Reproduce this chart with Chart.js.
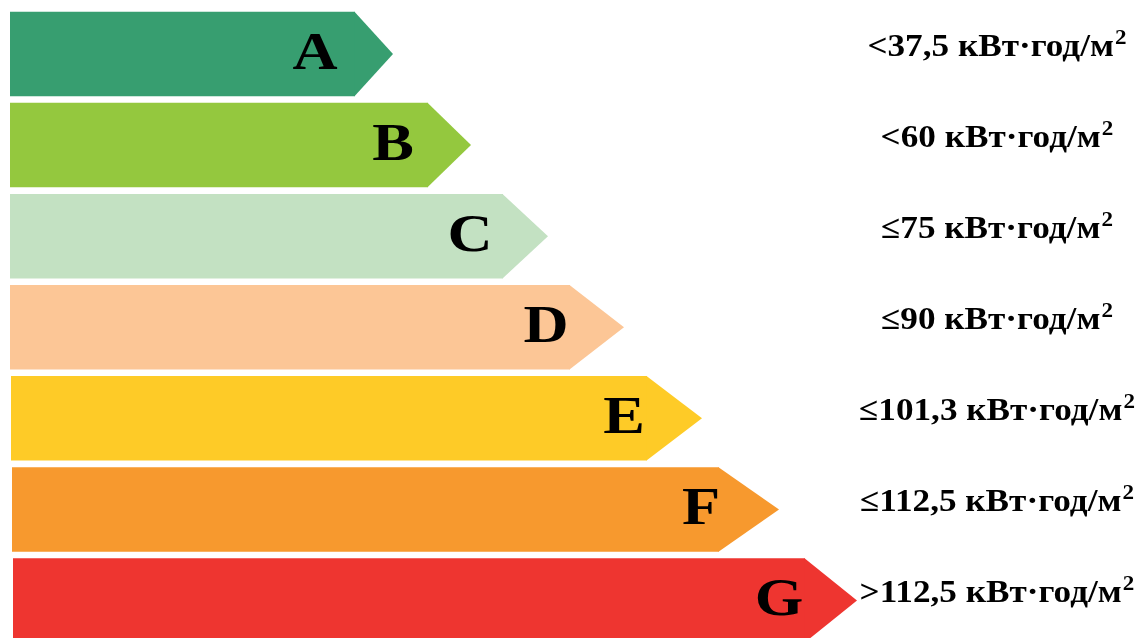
<!DOCTYPE html>
<html>
<head>
<meta charset="utf-8">
<script src="https://cdn.jsdelivr.net/npm/chart.js@4/dist/chart.umd.min.js"></script>
<style>
html,body{margin:0;padding:0;background:#fff;overflow:hidden;}
#wrap{width:1138px;height:646px;}
</style>
</head>
<body>
<div id="wrap"><canvas id="c" width="1138" height="646"></canvas></div>
<script>
const classes = ["A","B","C","D","E","F","G"];
const barStart = [10, 10, 10, 10, 11, 12, 13];
const barEnd = [355, 428, 503, 570, 647, 719, 805];
const tipEnd = [393, 471, 548, 624, 702, 779, 857];
const thresholds = ["<37,5 кВт·год/м²","<60 кВт·год/м²","≤75 кВт·год/м²","≤90 кВт·год/м²","≤101,3 кВт·год/м²","≤112,5 кВт·год/м²",">112,5 кВт·год/м²"];
const colors = ["#379e70","#94c83e","#c3e1c2","#fcc696","#fecb27","#f7992e","#ee3530"];

const arrowPlugin = {
  id: 'energyArrows',
  afterDatasetsDraw(chart) {
    const ctx = chart.ctx;
    const meta = chart.getDatasetMeta(0);
    const xs = chart.scales.x;
    meta.data.forEach((bar, i) => {
      const p = bar.getProps(['x','y','height'], true);
      const tip = xs.getPixelForValue(tipEnd[i]);
      const h = p.height;
      ctx.save();
      ctx.fillStyle = colors[i];
      ctx.beginPath();
      ctx.moveTo(p.x - 0.5, p.y - h/2);
      ctx.lineTo(tip, p.y);
      ctx.lineTo(p.x - 0.5, p.y + h/2);
      ctx.closePath();
      ctx.fill();
      // class letter
      ctx.fillStyle = '#000';
      ctx.font = "bold 52px 'Liberation Serif', 'Times New Roman', serif";
      ctx.textAlign = 'center';
      ctx.textBaseline = 'alphabetic';
      const lx = tip - 78;
      ctx.translate(lx, p.y + 15);
      ctx.scale(1.2, 1);
      ctx.fillText(classes[i], 0, 0);
      ctx.restore();
      // threshold label
      ctx.save();
      let txt = thresholds[i];
      let sup = '';
      if (txt.endsWith('²')) { txt = txt.slice(0, -1); sup = '2'; }
      const mainFont = "bold 32px 'Liberation Serif', 'Times New Roman', serif";
      const supFont = "bold 21px 'Liberation Serif', 'Times New Roman', serif";
      const sx = 1.1;
      ctx.font = mainFont;
      const w1 = ctx.measureText(txt).width;
      ctx.font = supFont;
      const w2 = ctx.measureText(sup).width;
      const total = (w1 + w2 + 1) * sx;
      const cx = 997;
      const left = cx - total/2;
      const base = p.y + 2;
      ctx.translate(left, base);
      ctx.scale(sx, 1);
      ctx.fillStyle = '#000';
      ctx.textAlign = 'left';
      ctx.textBaseline = 'alphabetic';
      ctx.font = mainFont;
      ctx.fillText(txt, 0, 0);
      ctx.font = supFont;
      ctx.fillText(sup, w1 + 1, -12);
      ctx.restore();
    });
  }
};

new Chart(document.getElementById('c'), {
  type: 'bar',
  data: {
    labels: classes,
    datasets: [{
      data: classes.map((c, i) => [barStart[i], barEnd[i]]),
      backgroundColor: colors,
      borderWidth: 0,
      borderSkipped: false,
      barPercentage: 0.928,
      categoryPercentage: 1
    }]
  },
  options: {
    indexAxis: 'y',
    responsive: false,
    devicePixelRatio: 1,
    animation: false,
    layout: { padding: { top: 8.5, left: 0, right: 0, bottom: 0 } },
    plugins: { legend: { display: false }, tooltip: { enabled: false } },
    scales: {
      x: { type: 'linear', min: 0, max: 1138, display: false },
      y: { display: false }
    }
  },
  plugins: [arrowPlugin]
});
</script>
</body>
</html>
